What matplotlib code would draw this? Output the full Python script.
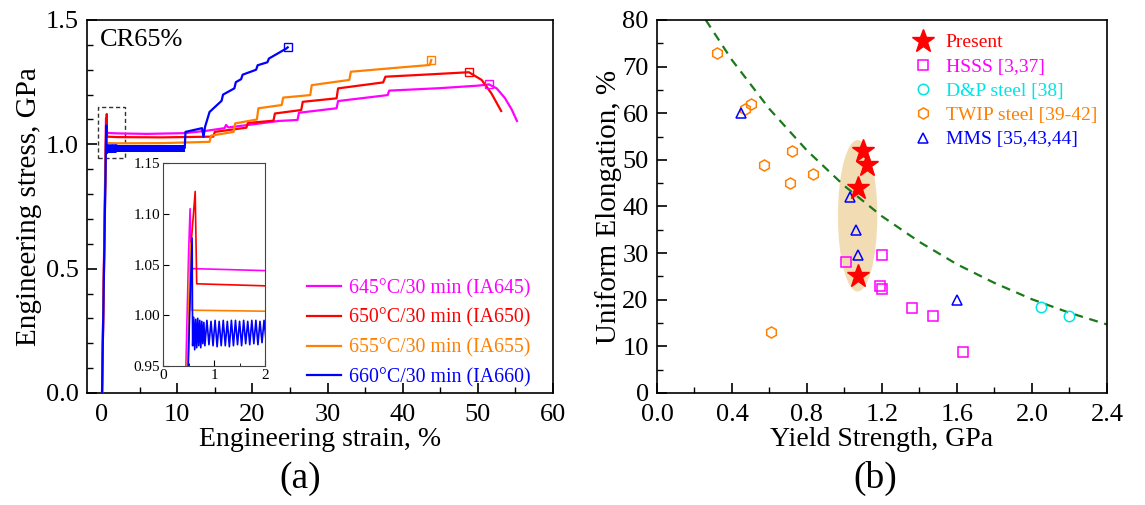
import matplotlib
matplotlib.use("Agg")
import matplotlib.pyplot as plt
from matplotlib.patches import Rectangle, Ellipse
from matplotlib.ticker import MultipleLocator, FormatStrFormatter

plt.rcParams['font.family'] = ['Liberation Serif', 'DejaVu Serif']
plt.rcParams['axes.linewidth'] = 1.2

# ---- (a) stress-strain curves ----
strain_645 = [0, 0.50, 0.53, 0.56, 2.0, 6.0, 11.0, 14.0, 16.3, 16.5, 16.8, 20.0, 23.5, 26.0, 26.2,
              31.2, 31.4, 38.0, 38.2, 45.0, 50.0, 51.5, 52.5, 53.6, 54.5, 55.2]
stress_645 = [0, 1.06, 1.105, 1.046, 1.044, 1.042, 1.045, 1.055, 1.065, 1.078, 1.068, 1.080, 1.094, 1.098, 1.127,
              1.145, 1.174, 1.198, 1.216, 1.226, 1.236, 1.241, 1.225, 1.186, 1.140, 1.094]

strain_650 = [0, 0.55, 0.63, 0.66, 2.0, 8.0, 14.8, 15.0, 19.2, 19.4, 22.8, 23.0, 26.5, 26.7,
              31.2, 31.4, 37.4, 37.7, 44.0, 48.8, 50.5, 51.8, 53.1]
stress_650 = [0, 1.07, 1.122, 1.031, 1.029, 1.028, 1.031, 1.050, 1.067, 1.086, 1.095, 1.124, 1.138, 1.171,
              1.185, 1.225, 1.249, 1.272, 1.282, 1.290, 1.259, 1.205, 1.134]

strain_655 = [0, 0.50, 0.53, 0.56, 2.0, 8.0, 14.3, 14.5, 17.5, 17.7, 20.6, 20.8, 23.9, 24.1,
              27.7, 27.9, 32.9, 33.1, 40.0, 43.6, 43.8]
stress_655 = [0, 1.00, 1.071, 1.005, 1.004, 1.005, 1.010, 1.035, 1.050, 1.084, 1.100, 1.145, 1.158, 1.188,
              1.198, 1.238, 1.259, 1.292, 1.310, 1.319, 1.339]

strain_660 = [0, 0.52, 0.57, 0.58, 0.60, 0.62, 0.64, 0.66, 0.68, 0.70, 0.72, 0.74, 0.76, 0.78, 0.80, 0.82,
              0.86, 0.90, 0.94, 0.98, 1.02, 1.06, 1.10, 1.14, 1.18, 1.22, 1.26, 1.30, 1.34, 1.38, 1.42,
              1.46, 1.50, 1.54, 1.58, 1.62, 1.66, 1.70, 1.74, 1.78, 1.82, 1.86, 1.90, 1.94, 1.98, 2.02,
              6.0, 11.0, 11.1, 13.3, 13.5, 13.7, 14.0, 14.3, 15.9, 16.1, 17.6, 17.8, 18.5, 18.7,
              20.5, 20.7, 22.0, 22.2, 24.5, 24.7]
stress_660 = [0, 1.00, 1.076, 0.970, 0.998, 0.966, 0.996, 0.968, 0.997, 0.970, 0.995, 0.968, 0.994, 0.972, 0.993, 0.970,
              0.995, 0.971, 0.994, 0.970, 0.995, 0.969, 0.994, 0.970, 0.995, 0.970, 0.994, 0.969, 0.995, 0.970, 0.995,
              0.971, 0.994, 0.970, 0.995, 0.972, 0.994, 0.971, 0.995, 0.972, 0.995, 0.971, 0.994, 0.973, 0.995, 0.975,
              0.985, 0.985, 1.050, 1.065, 1.030, 1.070, 1.100, 1.130, 1.175, 1.200, 1.225, 1.250, 1.262, 1.280,
              1.300, 1.318, 1.330, 1.345, 1.385, 1.390]

band_660_strain = [0.6, 11.0]
band_660_low = [0.968, 0.968]
band_660_high = [0.998, 0.998]

# fracture points (open squares)
end_strain = [51.5, 48.8, 43.8, 24.7]
end_stress = [1.241, 1.290, 1.339, 1.390]

curve_labels = ['645\u00b0C/30 min (IA645)', '650\u00b0C/30 min (IA650)',
                '655\u00b0C/30 min (IA655)', '660\u00b0C/30 min (IA660)']
curve_colors = ['#ff00ff', '#ff0000', '#ff8000', '#0000ff']

# ---- (b) elongation vs yield strength ----
present_ys = [1.10, 1.12, 1.07, 1.07]
present_el = [52, 49, 44, 25]
hsss_ys = [1.01, 1.20, 1.19, 1.20, 1.36, 1.47, 1.63]
hsss_el = [28, 29.5, 23, 22.3, 18.2, 16.5, 8.8]
dp_ys = [2.05, 2.20]
dp_el = [18.5, 16.5]
twip_ys = [0.32, 0.47, 0.50, 0.57, 0.71, 0.72, 0.83, 0.61]
twip_el = [73, 61, 62, 49, 45, 52, 47, 13]
mms_ys = [0.45, 1.03, 1.06, 1.07, 1.60]
mms_el = [60, 42, 35, 29.5, 20]
trend_ys = [0.26, 0.4, 0.6, 0.8, 1.0, 1.2, 1.4, 1.6, 1.8, 2.0, 2.2, 2.4]
trend_el = [80, 71.4, 60.9, 52.0, 44.4, 37.9, 32.4, 27.6, 23.6, 20.1, 17.2, 14.7]

fig = plt.figure(figsize=(11.45, 5.05), dpi=100)


def style_axes(ax):
    ax.tick_params(which='both', direction='in', labelsize=19)
    ax.tick_params(which='major', length=7, width=1.2)
    ax.tick_params(which='minor', length=4, width=1.0)
    ax.tick_params(axis='x', pad=8)
    ax.tick_params(axis='y', pad=6)


ax1 = fig.add_axes([0.076, 0.2218, 0.407, 0.7386])
series = [(strain_645, stress_645), (strain_650, stress_650),
          (strain_655, stress_655), (strain_660, stress_660)]
ax1.fill_between(band_660_strain, band_660_low, band_660_high, color=curve_colors[3], lw=0, zorder=2)
for (sx, sy), lab, col in zip(series, curve_labels, curve_colors):
    ax1.plot(sx, sy, color=col, lw=1.6, label=lab, zorder=3)
for ex, ey, col in zip(end_strain, end_stress, curve_colors):
    ax1.plot(ex, ey, marker='s', ms=6, mfc='none', mec=col, mew=1.0, zorder=4)
ax1.add_patch(Rectangle((-0.5, 0.945), 3.5, 0.205, fill=False, ls=(0, (3, 2)), lw=1.0, ec='#333333'))
ax1.set_xlim(-2, 60)
ax1.set_ylim(0, 1.5)
ax1.xaxis.set_major_locator(MultipleLocator(10))
ax1.xaxis.set_minor_locator(MultipleLocator(5))
ax1.yaxis.set_major_locator(MultipleLocator(0.5))
ax1.yaxis.set_minor_locator(MultipleLocator(0.1))
ax1.yaxis.set_major_formatter(FormatStrFormatter('%.1f'))
style_axes(ax1)
ax1.set_xlabel('Engineering strain, %', fontsize=20, labelpad=1)
ax1.set_ylabel('Engineering stress, GPa', fontsize=21, labelpad=3)
ax1.text(0.028, 0.975, 'CR65%', transform=ax1.transAxes, fontsize=19, va='top', ha='left')
leg1 = ax1.legend(loc='lower right', bbox_to_anchor=(0.957, 0.01), fontsize=14.3, frameon=False,
                  handlelength=1.75, handletextpad=0.4, labelspacing=0.52, borderpad=0.1,
                  borderaxespad=0)
for txt, col in zip(leg1.get_texts(), curve_colors):
    txt.set_color(col)

axin = fig.add_axes([0.1424, 0.2752, 0.0891, 0.402])
for (sx, sy), col in zip(series, curve_colors):
    axin.plot(sx, sy, color=col, lw=1.2)
axin.set_xlim(0, 2)
axin.set_ylim(0.95, 1.15)
axin.xaxis.set_major_locator(MultipleLocator(1))
axin.xaxis.set_minor_locator(MultipleLocator(0.5))
axin.yaxis.set_major_locator(MultipleLocator(0.05))
axin.yaxis.set_major_formatter(FormatStrFormatter('%.2f'))
axin.tick_params(which='both', direction='in', labelsize=11, pad=2)
axin.tick_params(which='major', length=4)
axin.tick_params(which='minor', length=2)
for sp in axin.spines.values():
    sp.set_linewidth(0.8)
    sp.set_color('#444444')

# ---- (b) ----
ax2 = fig.add_axes([0.5738, 0.2218, 0.393, 0.7386])
ax2.add_patch(Ellipse((1.07, 38), 0.21, 32.5, facecolor='#f2dcb3', edgecolor='none', zorder=1))
ax2.plot(trend_ys, trend_el, ls=(0, (4, 3)), color='#1a7a1a', lw=1.6, zorder=2)
ax2.plot(present_ys, present_el, ls='none', marker='*', ms=17, color='#ff0000', label='Present', zorder=5)
ax2.plot(hsss_ys, hsss_el, ls='none', marker='s', ms=6.5, mfc='none', mec='#ff00ff', mew=1.1,
         label='HSSS [3,37]', zorder=4)
ax2.plot(dp_ys, dp_el, ls='none', marker='o', ms=7.5, mfc='none', mec='#00e5e5', mew=1.1,
         label='D&P steel [38]', zorder=4)
ax2.plot(twip_ys, twip_el, ls='none', marker='h', ms=8, mfc='none', mec='#ff8000', mew=1.1,
         label='TWIP steel [39-42]', zorder=4)
ax2.plot(mms_ys, mms_el, ls='none', marker='^', ms=7.5, mfc='none', mec='#0000ff', mew=1.1,
         label='MMS [35,43,44]', zorder=4)
ax2.set_xlim(0, 2.4)
ax2.set_ylim(0, 80)
ax2.xaxis.set_major_locator(MultipleLocator(0.4))
ax2.xaxis.set_minor_locator(MultipleLocator(0.2))
ax2.xaxis.set_major_formatter(FormatStrFormatter('%.1f'))
ax2.yaxis.set_major_locator(MultipleLocator(10))
ax2.yaxis.set_minor_locator(MultipleLocator(5))
style_axes(ax2)
ax2.set_xlabel('Yield Strength, GPa', fontsize=20, labelpad=1)
ax2.set_ylabel('Uniform Elongation, %', fontsize=21, labelpad=0)
leg2 = ax2.legend(loc='upper right', bbox_to_anchor=(1.0, 0.989), fontsize=14, frameon=False,
                  handlelength=1.2, handletextpad=0.6, labelspacing=0.34, borderpad=0.3,
                  borderaxespad=0.2)
for txt, col in zip(leg2.get_texts(), ['#ff0000', '#ff00ff', '#00e5e5', '#ff8000', '#0000ff']):
    txt.set_color(col)

fig.text(0.262, 0.053, '(a)', fontsize=27, ha='center', va='center')
fig.text(0.764, 0.053, '(b)', fontsize=27, ha='center', va='center')

fig.savefig('out.png', dpi=100)
